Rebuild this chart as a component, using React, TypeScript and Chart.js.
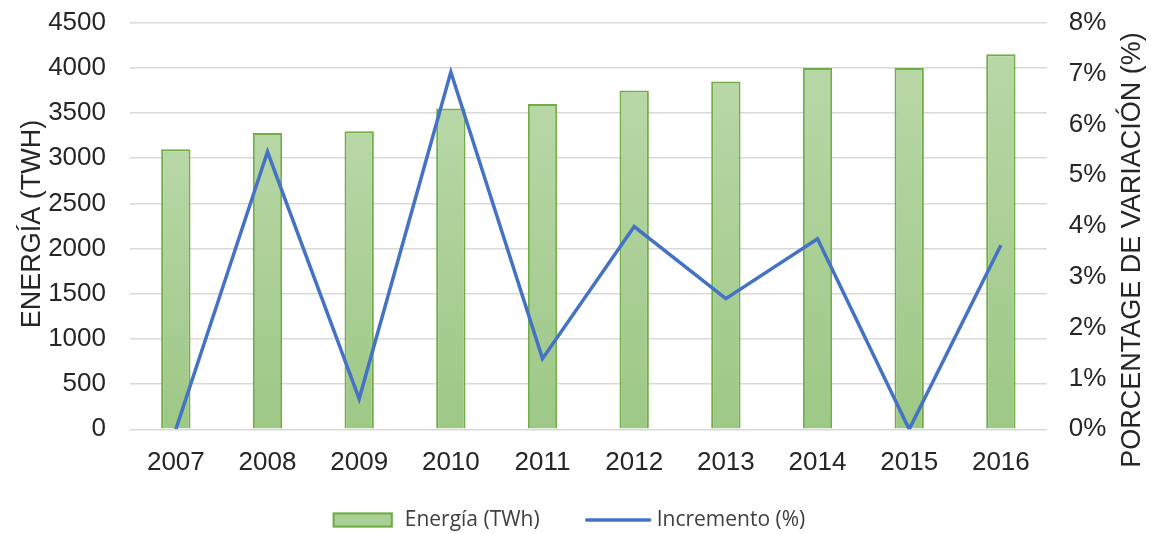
import React, { useEffect, useRef } from 'react';
import { Chart, registerables } from 'chart.js';

Chart.register(...registerables);

const years = ['2007', '2008', '2009', '2010', '2011', '2012', '2013', '2014', '2015', '2016'];
const energy = [3100, 3280, 3300, 3550, 3600, 3750, 3850, 4000, 4000, 4150];
const increment = [0, 5.46, 0.6, 7.03, 1.39, 3.99, 2.57, 3.75, 0, 3.62];
const seriesLabels = ['Energía (TWh)', 'Incremento (%)'];
const leftTitle = 'ENERGÍA (TWH)';
const rightTitle = 'PORCENTAGE DE VARIACIÓN (%)';

const TICK_FONT = '"Liberation Sans", Arial, sans-serif';
const TEXT_COLOR = '#262626';
const BAR_BORDER = '#70ad47';
const BAR_TOP = '#b8d7a6';
const BAR_BOTTOM = '#9dc886';
const BAR_LEGEND = '#abd095';
const LINE_COLOR = '#4472c4';

const titlesAndLegend = {
  id: 'titlesAndLegend',
  afterDraw(chart: any) {
    const ctx = chart.ctx;
    const area = chart.chartArea;
    ctx.save();
    ctx.fillStyle = TEXT_COLOR;
    ctx.font = `27px ${TICK_FONT}`;
    ctx.textAlign = 'center';
    ctx.textBaseline = 'alphabetic';
    // left title
    ctx.save();
    ctx.translate(40, (area.top + area.bottom) / 2 - 2);
    ctx.rotate(-Math.PI / 2);
    ctx.fillText(leftTitle, 0, 0);
    ctx.restore();
    // right title
    ctx.save();
    ctx.translate(1140, (area.top + area.bottom) / 2 + 24);
    ctx.rotate(-Math.PI / 2);
    ctx.fillText(rightTitle, 0, 0);
    ctx.restore();

    // legend
    const ds0 = chart.data.datasets[0];
    const ds1 = chart.data.datasets[1];
    ctx.font = `21px "Open Sans", "Noto Sans", sans-serif`;
    ctx.textAlign = 'left';
    ctx.textBaseline = 'middle';
    const w0 = ctx.measureText(ds0.label).width;
    const w1 = ctx.measureText(ds1.label).width;
    const boxW = 60, boxH = 15, gapBox = 12, gapItems = 47, lineW = 63, gapLine = 7;
    const total = boxW + gapBox + w0 + gapItems + lineW + gapLine + w1;
    let x = 569 - total / 2;
    const cy = 520;
    ctx.fillStyle = BAR_LEGEND;
    ctx.fillRect(x, cy - boxH / 2, boxW, boxH);
    ctx.strokeStyle = ds0.borderColor;
    ctx.lineWidth = 2;
    ctx.strokeRect(x + 1, cy - boxH / 2 + 1, boxW - 2, boxH - 2);
    x += boxW + gapBox;
    ctx.fillStyle = '#404040';
    ctx.fillText(ds0.label, x, cy);
    x += w0 + gapItems;
    ctx.strokeStyle = ds1.borderColor;
    ctx.lineWidth = ds1.borderWidth;
    ctx.lineCap = 'round';
    ctx.beginPath();
    ctx.moveTo(x, cy);
    ctx.lineTo(x + lineW, cy);
    ctx.stroke();
    x += lineW + gapLine;
    ctx.fillText(ds1.label, x, cy);
    ctx.restore();
  },
};

export default function App() {
  const ref = useRef<HTMLCanvasElement | null>(null);

  useEffect(() => {
    if (!ref.current) return;
    const chart = new Chart(ref.current, {
      type: 'bar',
      data: {
        labels: years,
        datasets: [
          {
            type: 'bar',
            label: seriesLabels[0],
            data: energy,
            yAxisID: 'y',
            order: 1,
            borderColor: BAR_BORDER,
            borderWidth: 2,
            backgroundColor: (c: any) => {
              const ch = c.chart;
              const sc = ch.scales && ch.scales.y;
              if (!ch.chartArea || !sc || c.type !== 'data') return BAR_LEGEND;
              const top = sc.getPixelForValue(c.raw);
              const bottom = sc.getPixelForValue(0);
              if (!isFinite(top) || !isFinite(bottom) || top === bottom) return BAR_LEGEND;
              const g = ch.ctx.createLinearGradient(0, top, 0, bottom);
              g.addColorStop(0, BAR_TOP);
              g.addColorStop(1, BAR_BOTTOM);
              return g;
            },
            barPercentage: 0.32,
            categoryPercentage: 1,
          } as any,
          {
            type: 'line',
            label: seriesLabels[1],
            data: increment,
            yAxisID: 'y1',
            order: 0,
            borderColor: LINE_COLOR,
            backgroundColor: LINE_COLOR,
            borderWidth: 3.5,
            pointRadius: 0,
            tension: 0,
            borderJoinStyle: 'miter',
          } as any,
        ],
      },
      options: {
        responsive: false,
        animation: false,
        layout: { padding: { top: 22.7, left: 0, right: 0, bottom: 0 } },
        plugins: {
          legend: { display: false },
          tooltip: { enabled: false },
        },
        scales: {
          x: {
            grid: { display: false },
            border: { display: false },
            ticks: {
              color: TEXT_COLOR,
              font: { family: TICK_FONT, size: 26 },
              padding: 10,
              maxRotation: 0,
            },
            afterFit: (s: any) => {
              s.height = 104.7;
            },
          },
          y: {
            position: 'left',
            min: 0,
            max: 4500,
            grid: {
              color: '#d9d9d9',
              lineWidth: 1.5,
              drawTicks: true,
              tickLength: 24,
              tickColor: 'rgba(0,0,0,0)',
            },
            border: { display: false },
            ticks: {
              stepSize: 500,
              color: TEXT_COLOR,
              font: { family: TICK_FONT, size: 26 },
              padding: 0,
              callback: (v: any) => String(v),
            },
            afterFit: (s: any) => {
              s.width = 130;
            },
          },
          y1: {
            position: 'right',
            min: 0,
            max: 8,
            grid: {
              display: true,
              drawOnChartArea: false,
              drawTicks: true,
              tickLength: 22,
              color: 'rgba(0,0,0,0)',
              tickColor: 'rgba(0,0,0,0)',
            },
            border: { display: false },
            ticks: {
              stepSize: 1,
              color: TEXT_COLOR,
              font: { family: TICK_FONT, size: 26 },
              padding: 0,
              callback: (v: any) => `${v}%`,
            },
            afterFit: (s: any) => {
              s.width = 104.3;
            },
          },
        },
      },
      plugins: [titlesAndLegend],
    });
    return () => chart.destroy();
  }, []);

  return (
    <div style={{ position: 'fixed', left: 0, top: 0, width: 1151, height: 534, background: '#fff' }}>
      <canvas ref={ref} width={1151} height={534} style={{ width: 1151, height: 534 }} />
    </div>
  );
}
